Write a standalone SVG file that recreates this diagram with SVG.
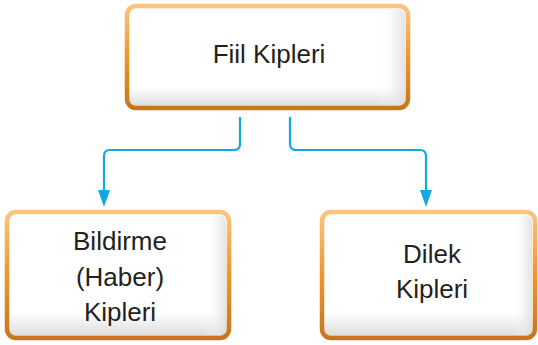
<svg xmlns="http://www.w3.org/2000/svg" width="538" height="345" viewBox="0 0 538 345">
<defs>
<linearGradient id="border" x1="0" y1="0" x2="0" y2="1">
<stop offset="0" stop-color="#fbc47f"/>
<stop offset="0.5" stop-color="#f0952a"/>
<stop offset="1" stop-color="#c7761c"/>
</linearGradient>
<linearGradient id="fillV" x1="0" y1="0" x2="0" y2="1">
<stop offset="0" stop-color="#ffffff"/>
<stop offset="0.8" stop-color="#ffffff"/>
<stop offset="1" stop-color="#d9d9d9"/>
</linearGradient>
<linearGradient id="fillH" x1="0" y1="0" x2="1" y2="0">
<stop offset="0.9" stop-color="#ffffff" stop-opacity="0"/>
<stop offset="1" stop-color="#dcdcdc" stop-opacity="0.8"/>
</linearGradient>
<marker id="arr" viewBox="0 0 12 17" refX="6" refY="17" markerWidth="12" markerHeight="17" markerUnits="userSpaceOnUse" orient="auto-start-reverse">
<path d="M0,0 L12,0 L6,17 Z" fill="#12a9e2"/>
</marker>
</defs>
<style>
.box{fill:url(#fillV);stroke:url(#border);stroke-width:4.5}
.shade{fill:url(#fillH);stroke:none}
.lbl{font-family:"Liberation Sans",Arial,sans-serif;font-size:26px;fill:#231f20;text-anchor:middle}
.conn{fill:none;stroke:#12a9e2;stroke-width:2.2}
</style>
<g id="connectors">
<path class="conn" d="M240,117 V144 Q240,150 234,150 H110 Q104,150 104,156 V190"/>
<path class="conn" d="M290,117 V144 Q290,150 296,150 H420 Q426,150 426,156 V190"/>
<path d="M98,190 L110,190 L104,207 Z" fill="#12a9e2"/>
<path d="M420,190 L432,190 L426,207 Z" fill="#12a9e2"/>
</g>
<g id="fiil-kipleri">
<rect class="box" x="127" y="6" width="281" height="102" rx="9"/>
<rect class="shade" x="130" y="9" width="275" height="96" rx="7"/>
<text class="lbl" x="269" y="63">Fiil Kipleri</text>
</g>
<g id="bildirme-kipleri">
<rect class="box" x="7" y="212" width="222" height="126" rx="9"/>
<rect class="shade" x="10" y="215" width="216" height="120" rx="7"/>
<text class="lbl" x="120" y="250">Bildirme</text>
<text class="lbl" x="120" y="286">(Haber)</text>
<text class="lbl" x="120" y="321">Kipleri</text>
</g>
<g id="dilek-kipleri">
<rect class="box" x="322" y="212" width="213" height="126" rx="9"/>
<rect class="shade" x="325" y="215" width="207" height="120" rx="7"/>
<text class="lbl" x="432" y="263">Dilek</text>
<text class="lbl" x="432" y="298">Kipleri</text>
</g>
</svg>
